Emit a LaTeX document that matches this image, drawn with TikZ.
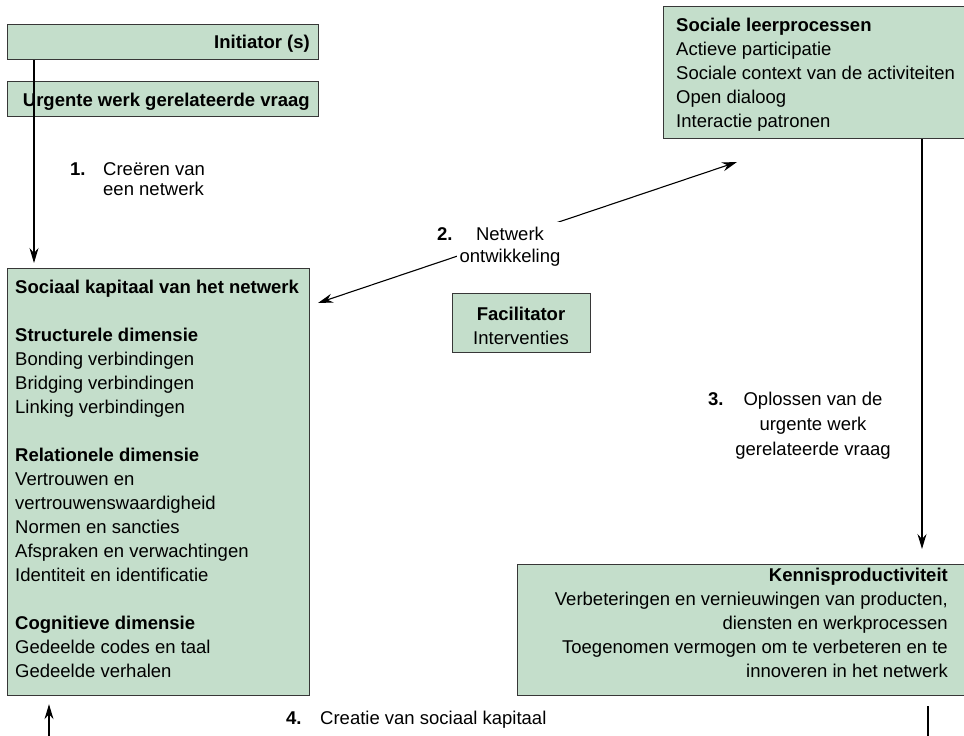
\documentclass[tikz,border=0pt]{standalone}
\usepackage{fontspec}
\setmainfont{Liberation Sans}
\usetikzlibrary{arrows.meta}
\definecolor{boxgreen}{RGB}{196,222,203}
\definecolor{boxline}{RGB}{55,55,55}
\newcommand\dgfont{\fontsize{18.5}{24}\selectfont}
\begin{document}
\begin{tikzpicture}[x=1pt,y=-1pt,
  box/.style={draw=boxline, fill=boxgreen, line width=1.2pt, rectangle, inner sep=0pt, anchor=north west},
  txt/.style={inner sep=0pt, font=\dgfont},
  txtb/.style={inner sep=0pt, font=\dgfont\bfseries},
  arr/.style={draw=black, line width=1.1pt, -{Stealth[length=15pt,width=9pt,inset=5pt]}},
  darr/.style={draw=black, line width=1.1pt, {Stealth[length=15pt,width=9pt,inset=5pt]}-{Stealth[length=15pt,width=9pt,inset=5pt]}},
]
\useasboundingbox (0,0) rectangle (964,736);
% boxes
\node[box, minimum width=311pt, minimum height=35pt] (init) at (7,24) {};
\node[box, minimum width=311pt, minimum height=35pt] (urg) at (7,81) {};
\node[box, minimum width=302pt, minimum height=427pt] (sk) at (7,268) {};
\node[box, minimum width=138pt, minimum height=59pt] (fac) at (452,293) {};
\node[box, minimum width=330pt, minimum height=132pt] (leer) at (663,6) {};
\node[box, minimum width=460pt, minimum height=131pt] (ken) at (517,564) {};
% box texts
\node[txtb, anchor=base east] (tinit) at (310,48) {Initiator (s)};
\node[txtb, anchor=base east] (turg) at (310,106) {Urgente werk gerelateerde vraag};
\node[txt, anchor=base west] (tsk) at (15,293) {\begin{tabular}[t]{@{}l@{}}
\textbf{Sociaal kapitaal van het netwerk}\\
\\
\textbf{Structurele dimensie}\\
Bonding verbindingen\\
Bridging verbindingen\\
Linking verbindingen\\
\\
\textbf{Relationele dimensie}\\
Vertrouwen en\\
vertrouwenswaardigheid\\
Normen en sancties\\
Afspraken en verwachtingen\\
Identiteit en identificatie\\
\\
\textbf{Cognitieve dimensie}\\
Gedeelde codes en taal\\
Gedeelde verhalen
\end{tabular}};
\node[txt, anchor=base west] (tleer) at (676,31) {\begin{tabular}[t]{@{}l@{}}
\textbf{Sociale leerprocessen}\\
Actieve participatie\\
Sociale context van de activiteiten\\
Open dialoog\\
Interactie patronen
\end{tabular}};
\node[txt, anchor=base east] (tken) at (948,581) {\begin{tabular}[t]{@{}r@{}}
\textbf{Kennisproductiviteit}\\
Verbeteringen en vernieuwingen van producten,\\
diensten en werkprocessen\\
Toegenomen vermogen om te verbeteren en te\\
innoveren in het netwerk
\end{tabular}};
\node[txt, anchor=base] (tfac) at (521,320) {\begin{tabular}[t]{@{}c@{}}
\textbf{Facilitator}\\
Interventies
\end{tabular}};
% connectors
\coordinate (x1) at (34,0);
\coordinate (x3) at (922,0);
\coordinate (x4r) at (928,0);
\coordinate (x4l) at (49,0);
\coordinate (a2l) at (318,303);
\coordinate (a2r) at (737,162);
\draw[arr, shorten >=5pt] (x1 |- init.south) -- (x1 |- sk.north);
\draw[arr, shorten >=15pt] (x3 |- leer.south) -- (x3 |- ken.north);
\draw[arr, shorten <=10pt, shorten >=8pt] (x4r |- ken.south) -- ++(0,80) -| (x4l |- sk.south);
\draw[darr] (a2l) -- (a2r);
% labels
\node[txtb, anchor=base west] (n1) at (70,175) {1.};
\node[inner sep=0pt, font=\fontsize{18.5}{20}\selectfont, anchor=base west] (t1) at (103,175) {\begin{tabular}[t]{@{}l@{}}Creëren van\\een netwerk\end{tabular}};
\node[txtb, anchor=base west] (n2) at (437,240) {2.};
\node[inner sep=3pt, fill=white, font=\fontsize{18.5}{22}\selectfont, anchor=base] (t2) at (510,240) {\begin{tabular}[t]{@{}c@{}}Netwerk\\ontwikkeling\end{tabular}};
\node[txtb, anchor=base west] (n3) at (708,405) {3.};
\node[inner sep=0pt, font=\fontsize{18.5}{25}\selectfont, anchor=base] (t3) at (813,405) {\begin{tabular}[t]{@{}c@{}}Oplossen van de\\urgente werk\\gerelateerde vraag\end{tabular}};
\node[txtb, anchor=base west] (n4) at (286,724) {4.};
\node[txt, anchor=base west] (t4) at (320,724) {Creatie van sociaal kapitaal};
\end{tikzpicture}
\end{document}
